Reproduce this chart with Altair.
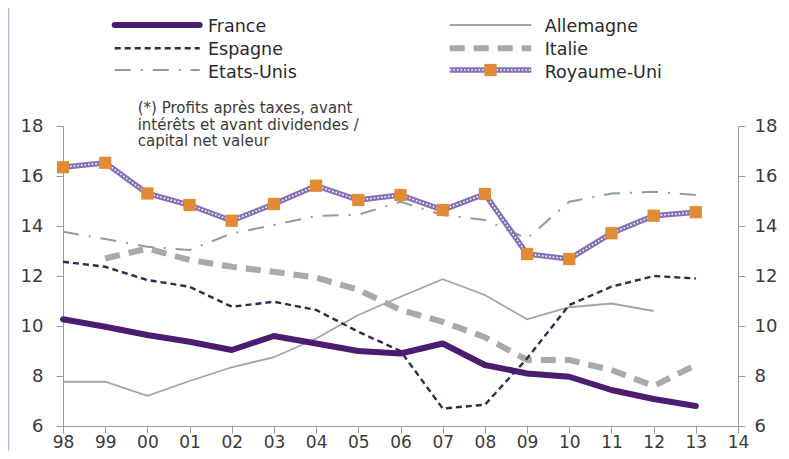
import altair as alt
import pandas as pd

# ---------------- data ----------------
YEARS = list(range(1998, 2014))
SERIES = ["France", "Espagne", "Etats-Unis", "Allemagne", "Italie", "Royaume-Uni"]
FRANCE = [10.27, 9.97, 9.64, 9.37, 9.04, 9.6, 9.3, 9.0, 8.9, 9.3, 8.44, 8.1, 7.97, 7.44, 7.08, 6.8]
ESPAGNE = [12.57, 12.37, 11.84, 11.57, 10.77, 10.97, 10.64, 9.77, 9.0, 6.7, 6.85, 8.7, 10.84, 11.57, 12.0, 11.9]
ETATS_UNIS = [13.77, 13.48, 13.17, 13.04, 13.7, 14.04, 14.4, 14.45, 14.97, 14.44, 14.24, 13.5, 14.97, 15.3, 15.37, 15.24]
ALLEMAGNE = [7.77, 7.77, 7.21, 7.8, 8.35, 8.75, 9.5, 10.44, 11.17, 11.87, 11.24, 10.27, 10.75, 10.9, 10.6, None]
ITALIE = [None, 12.7, 13.1, 12.64, 12.37, 12.17, 11.94, 11.45, 10.64, 10.17, 9.55, 8.64, 8.64, 8.24, 7.6, 8.44]
ROYAUME_UNI = [16.35, 16.53, 15.3, 14.84, 14.21, 14.88, 15.61, 15.04, 15.24, 14.64, 15.28, 12.88, 12.68, 13.71, 14.41, 14.55]
X_TICKS = list(range(1998, 2015))
Y_TICKS = [6, 8, 10, 12, 14, 16, 18]
NOTE = "(*) Profits après taxes, avant\nintérêts et avant dividendes /\ncapital net valeur"

VALUES = [FRANCE, ESPAGNE, ETATS_UNIS, ALLEMAGNE, ITALIE, ROYAUME_UNI]
rows = []
for name, vals in zip(SERIES, VALUES):
    for yr, v in zip(YEARS, vals):
        if v is not None:
            rows.append({"serie": name, "annee": yr, "valeur": v})
df = pd.DataFrame(rows)

FONT = "DejaVu Sans"
W, H = 675, 300

x_enc = alt.X(
    "annee:Q",
    scale=alt.Scale(domain=[1998, 2014], nice=False, zero=False),
    axis=alt.Axis(
        values=X_TICKS, labelExpr="substring(toString(datum.value), 2)",
        title=None, grid=False, tickSize=7, labelPadding=1,
        labelFontSize=17, labelFont=FONT, labelColor="#3a3a3a",
        domainColor="#9a9a9a", tickColor="#9a9a9a", labelFlush=False,
    ),
)
y_scale = alt.Scale(domain=[6, 18], nice=False, zero=False)


def y_enc(orient=None):
    if orient is None:
        return alt.Y("valeur:Q", scale=y_scale, axis=None)
    return alt.Y(
        "valeur:Q", scale=y_scale,
        axis=alt.Axis(
            orient=orient, values=Y_TICKS, title=None, grid=False, tickSize=7,
            labelPadding=13 if orient == "left" else 9,
            labelFontSize=18, labelFont=FONT, labelColor="#3a3a3a",
            domainColor="#9a9a9a", tickColor="#9a9a9a", labelFlush=False,
        ),
    )


def series_line(name, orient=None, **style):
    return (
        alt.Chart(df)
        .transform_filter(alt.datum.serie == name)
        .mark_line(**style)
        .encode(x=x_enc, y=y_enc(orient))
    )


STYLES = {
    "Allemagne": dict(color="#a4a4a4", strokeWidth=1.8),
    "Italie": dict(color="#a9a9a9", strokeWidth=6, strokeDash=[15, 9]),
    "Etats-Unis": dict(color="#8d9ba5", strokeWidth=2, strokeDash=[16, 10, 2, 10]),
    "Espagne": dict(color="#3b2550", strokeWidth=2.4, strokeDash=[6, 4]),
    "France": dict(color="#4b1c6f", strokeWidth=6, strokeJoin="round", strokeCap="round"),
}
UK_BASE = dict(color="#8470b5", strokeWidth=5.5)
UK_DOTS = dict(color="#ffffff", strokeWidth=1.6, strokeDash=[1.6, 2])
SQUARE = dict(color="#e38b34", shape="square", size=150, filled=True, opacity=1)

layers = [
    series_line("Allemagne", "left", **STYLES["Allemagne"]),
    series_line("Italie", "right", **STYLES["Italie"]),
    series_line("Etats-Unis", **STYLES["Etats-Unis"]),
    series_line("Espagne", **STYLES["Espagne"]),
    series_line("France", **STYLES["France"]),
    series_line("Royaume-Uni", **UK_BASE),
    series_line("Royaume-Uni", **UK_DOTS),
    alt.Chart(df).transform_filter(alt.datum.serie == "Royaume-Uni")
    .mark_point(**SQUARE).encode(x=x_enc, y=y_enc()),
]

# ---------------- manual legend ----------------
one = pd.DataFrame({"k": [0]})
LEG_X = {0: (51.7, 136.7, 145), 1: (386.7, 468.3, 481.7)}
LEG_Y = [(-101, -94.3), (-77.7, -71), (-56, -48.3)]
LEG_POS = {
    "France": (0, 0), "Espagne": (0, 1), "Etats-Unis": (0, 2),
    "Allemagne": (1, 0), "Italie": (1, 1), "Royaume-Uni": (1, 2),
}
for name in SERIES:
    c, r = LEG_POS[name]
    x0, x1, xt = LEG_X[c]
    yl, yt = LEG_Y[r]
    styles = [UK_BASE, UK_DOTS] if name == "Royaume-Uni" else [STYLES[name]]
    for st in styles:
        layers.append(
            alt.Chart(one).mark_rule(**st).encode(
                x=alt.value(x0), x2=alt.value(x1), y=alt.value(yl)
            )
        )
    if name == "Royaume-Uni":
        layers.append(
            alt.Chart(one).mark_point(**SQUARE).encode(
                x=alt.value((x0 + x1) / 2), y=alt.value(yl)
            )
        )
    layers.append(
        alt.Chart(pd.DataFrame({"t": [name]})).mark_text(
            align="left", baseline="alphabetic", font=FONT, fontSize=17.5, color="#2a2a2a"
        ).encode(text="t:N", x=alt.value(xt), y=alt.value(yt))
    )

# annotation
layers.append(
    alt.Chart(pd.DataFrame({"t": [NOTE]})).mark_text(
        align="left", baseline="alphabetic", font=FONT, fontSize=15,
        color="#3a3a3a", lineBreak="\n", lineHeight=16.7,
    ).encode(text="t:N", x=alt.value(74.7), y=alt.value(-13))
)

# decorative left frame line
layers.append(
    alt.Chart(one).mark_rule(color="#a9bccf", strokeWidth=1.2).encode(
        x=alt.value(-54.3), y=alt.value(-126), y2=alt.value(333)
    )
)

chart = (
    alt.layer(*layers)
    .resolve_axis(y="independent")
    .properties(
        width=W, height=H,
        padding={"left": 55, "top": 118, "right": 43, "bottom": 25},
        autosize=alt.AutoSizeParams(type="none"),
        background="white",
    )
    .configure_view(stroke=None)
)

chart.save("out.html", embed_options={"renderer": "svg", "actions": False})
